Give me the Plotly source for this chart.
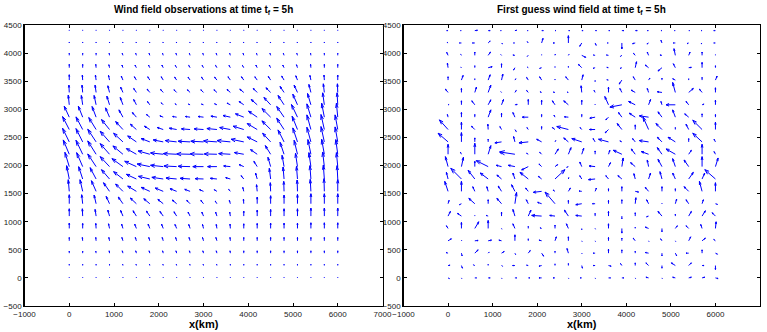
import plotly.graph_objects as go

# Grid (km)
X_KM = [0, 300, 600, 900, 1200, 1500, 1800, 2100, 2400, 2700, 3000,
        3300, 3600, 3900, 4200, 4500, 4800, 5100, 5400, 5700, 6000]
Y_KM = [0, 220, 440, 660, 880, 1100, 1320, 1540, 1760, 1980, 2200,
        2420, 2640, 2860, 3080, 3300, 3520, 3740, 3960, 4180, 4400]
X_TICKS = [-1000, 0, 1000, 2000, 3000, 4000, 5000, 6000, 7000]
Y_TICKS = [-500, 0, 500, 1000, 1500, 2000, 2500, 3000, 3500, 4000, 4500]

TITLE_OBS = "Wind field observations at time t<sub>f</sub> = 5h"
TITLE_FG = "First guess wind field at time t<sub>f</sub> = 5h"
XLABEL = "x(km)"

# Arrow components (rows from y=0 upward, columns x=0..6000)
U_OBS = [
    [0]*21,
    [0, 0, 0, 0, -1, -1, -1, -1, -1, -1, -1, -1, 0, 0, 0, 0, 0, 0, 0, 0, 0],
    [0, 0, -1, -1, -2, -2, -2, -2, -2, -2, -2, -2, -1, 0, 0, 0, 0, 0, 0, 0, 0],
    [0, -1, -1, -2, -3, -3, -3, -3, -3, -3, -3, -3, -1, 0, 0, 0, 0, 0, 0, 0, 0],
    [0, 0, -1, -3, -4, -5, -5, -5, -5, -4, -3, -2, -1, 0, 0, 0, 0, 0, 0, 0, 0],
    [0, -1, -3, -5, -7, -10, -10, -10, -8, -6, -5, -4, -2, 0, 0, 0, 0, 0, 0, 0, 0],
    [0, -3, -6, -10, -14, -18, -18, -16, -13, -10, -8, -5, -3, -1, 0, 0, 0, 0, 0, 0, 0],
    [-3, -8, -14, -18, -22, -26, -26, -24, -20, -16, -12, -8, -5, -3, -2, -1, -1, -1, -2, -1, 0],
    [-8, -12, -18, -24, -28, -30, -34, -34, -32, -30, -25, -20, -14, -8, -5, -4, -3, -3, -3, -3, -2],
    [-13, -18, -25, -28, -33, -35, -38, -38, -38, -36, -32, -28, -20, -14, -10, -8, -6, -6, -6, -5, -4],
    [-18, -20, -25, -28, -30, -30, -35, -38, -40, -40, -40, -38, -35, -28, -20, -16, -12, -10, -9, -8, -6],
    [-20, -20, -25, -28, -28, -26, -26, -30, -34, -36, -38, -40, -40, -38, -30, -24, -18, -14, -12, -10, -8],
    [-20, -20, -22, -24, -22, -18, -16, -18, -22, -26, -28, -30, -32, -32, -30, -26, -22, -16, -12, -10, -8],
    [-15, -13, -12, -12, -12, -12, -10, -10, -12, -14, -16, -18, -22, -25, -26, -26, -22, -18, -12, -8, -4],
    [-3, -4, -6, -8, -8, -8, -7, -6, -5, -5, -6, -7, -10, -14, -18, -20, -18, -14, -10, -5, -2],
    [-1, -2, -3, -5, -7, -8, -8, -8, -8, -8, -8, -9, -10, -12, -12, -14, -12, -10, -6, -3, -1],
    [0, -1, -2, -3, -5, -6, -6, -6, -6, -6, -6, -7, -7, -7, -7, -7, -7, -5, -3, -1, 0],
    [0, 0, -1, -2, -3, -4, -4, -4, -4, -4, -4, -4, -4, -4, -4, -4, -4, -3, -1, 0, 0],
    [0, 0, 0, -1, -2, -2, -2, -2, -2, -2, -2, -2, -2, -2, -2, -2, -2, -2, -1, 0, 0],
    [0, 0, 0, 0, -1, -1, -1, -1, -1, -1, -1, -1, -1, -1, -1, -1, -1, -1, 0, 0, 0],
    [0]*21,
]
V_OBS = [
    [2]*21,
    [4]*21,
    [6, 6, 6, 7, 7, 7, 7, 7, 7, 7, 7, 7, 7, 7, 7, 7, 7, 7, 7, 7, 7],
    [10]*21,
    [16, 15, 15, 14, 13, 13, 13, 13, 12, 12, 12, 12, 13, 14, 15, 16, 16, 16, 17, 17, 17],
    [22, 22, 20, 18, 17, 16, 15, 14, 13, 12, 12, 12, 12, 15, 18, 20, 22, 22, 24, 24, 24],
    [27, 27, 26, 22, 20, 17, 15, 13, 11, 10, 10, 8, 10, 14, 20, 24, 26, 28, 30, 30, 30],
    [35, 35, 32, 26, 22, 16, 12, 10, 8, 6, 5, 5, 6, 12, 20, 26, 30, 34, 36, 38, 36],
    [40, 37, 34, 28, 22, 14, 8, 5, 3, 2, 1, 2, 4, 10, 18, 32, 36, 38, 40, 42, 40],
    [43, 42, 38, 30, 24, 16, 8, 4, 2, 1, 0, 0, 2, 6, 16, 28, 34, 40, 42, 44, 42],
    [43, 42, 40, 32, 25, 17, 10, 4, 2, 1, 1, 1, 2, 5, 14, 26, 36, 42, 44, 45, 44],
    [41, 40, 38, 32, 26, 18, 10, 6, 4, 2, 2, 3, 4, 8, 15, 26, 36, 42, 44, 46, 45],
    [39, 38, 36, 30, 24, 16, 10, 6, 4, 2, 2, 3, 6, 10, 18, 26, 34, 40, 44, 45, 44],
    [33, 33, 32, 28, 22, 14, 8, 4, 2, 2, 2, 3, 5, 10, 18, 26, 32, 38, 40, 42, 42],
    [29, 28, 28, 26, 22, 16, 10, 6, 3, 2, 2, 3, 5, 10, 16, 22, 28, 32, 34, 36, 36],
    [22, 22, 22, 20, 16, 12, 10, 9, 8, 8, 8, 8, 9, 10, 12, 14, 18, 22, 24, 26, 26],
    [16, 15, 15, 14, 12, 10, 10, 10, 9, 9, 9, 9, 10, 10, 10, 11, 12, 13, 14, 15, 15],
    [10, 10, 10, 9, 8, 8, 8, 8, 7, 7, 7, 7, 7, 7, 8, 8, 8, 9, 10, 10, 10],
    [6]*21,
    [3]*21,
    [2]*21,
]

U_FG = [
    [4, 1, 5, 6, 1, 5, 5, -8, -6, 1, -5, 1, 6, 6, 1, -8, 1, -8, 8, 8, 8],
    [6, 3, -4, 0, 3, -7, -5, -8, 0, 0, 2, -6, 8, -4, 0, -8, 0, -12, 8, 6, 0],
    [-6, 2, 10, 3, 8, 2, 6, 6, 0, -4, 1, -6, 0, 0, 0, -10, 0, 4, -8, 0, 6],
    [10, 1, 10, 10, -8, 0, 0, -8, 4, 0, 1, 1, 0, 0, -6, 1, -4, 1, 6, 10, -5],
    [-5, 0, 12, 0, 1, -6, 0, -5, 0, -6, 0, 1, 0, 0, 0, -10, 0, 6, -8, -4, 2],
    [7, -12, 0, -6, 0, -6, 8, -30, -16, -12, -18, 0, 0, 0, 0, -6, -12, 0, 8, 10, -10],
    [3, -6, -18, 0, -14, 5, -6, -12, -30, 0, -18, -8, 0, 0, 2, -6, 0, 4, -8, 4, 6],
    [-10, 0, -6, -4, -10, -10, -8, -25, -6, 6, -8, 4, 0, 0, 10, -10, 0, 0, -14, -8, 0],
    [-5, -32, -20, -24, -14, -6, -25, -10, 30, 1, -6, -20, -8, -12, -4, 6, -6, -8, 14, 8, -32],
    [-8, 6, 0, -36, -16, -20, -20, -8, 8, -5, -6, -18, 6, 4, -14, -4, -12, -8, -14, 0, 8],
    [0, -3, 0, 8, -4, -46, -5, -6, 10, 8, 6, 0, 4, -26, -12, -22, -14, -28, 8, 0, -4],
    [-30, 0, 0, 0, -20, -4, -28, -15, 2, -14, -30, -6, -30, -6, -8, -28, -14, -22, 0, -28, -4],
    [-26, 0, -10, -1, -5, 4, -4, 0, -8, -35, -5, -17, -10, -14, 0, -17, -18, 0, -8, -28, 0],
    [-2, 0, 0, 8, 0, -6, -18, 0, -3, -12, 0, -16, -8, -10, -18, -28, -12, -8, -12, 0, 0],
    [3, 0, -9, 8, 6, 7, 0, 0, -8, -14, 0, 0, -11, -36, -20, 6, -3, -28, -8, 6, 0],
    [-8, 0, 5, 8, -2, 4, -5, -5, -5, -4, -2, -3, 0, -6, -12, -4, -14, -8, 14, -8, 0],
    [0, 5, 0, 6, 4, 3, -5, -6, 0, -8, 4, 0, -5, -8, -6, 4, 0, -8, 0, 0, 5],
    [-2, -2, 0, 12, 0, -4, -3, -6, 0, 0, -10, -6, -5, -5, 4, -10, -12, -6, 8, 0, 0],
    [-4, -2, 0, 7, -2, -6, -3, 0, 1, 2, 12, -5, -6, -4, -5, -4, -6, -4, 4, 0, 0],
    [-3, -6, -7, 6, 3, -4, -3, 4, -6, 0, -6, 3, -4, 0, -8, -5, -3, -6, -5, -3, -5],
    [-4, -3, 8, 6, -3, 5, -3, 5, 3, 4, 4, 4, 4, 6, 6, -4, -3, -3, 3, -3, -5],
]
V_FG = [
    [-2, -2, 0, 0, -2, 0, 0, 0, 0, -2, 0, -2, 0, 0, -2, 2, -2, 2, 2, 2, -2],
    [1, -8, 2, 4, -2, 0, 1, -2, 5, 6, -8, 0, -2, 6, 8, 8, -8, 8, 8, 0, -12],
    [2, -8, 10, 3, 5, -4, 8, -9, 6, 14, -2, 0, 12, 10, 6, 2, -8, -8, 0, 10, -3],
    [6, 2, 1, 2, 2, 18, 6, 2, 12, 12, -2, -2, 10, 8, 8, -2, 6, -2, 12, 8, 4],
    [8, 18, 20, 24, -2, 14, 6, 2, 10, 14, -4, -2, 14, -14, 4, 4, -10, 8, 8, 12, 20],
    [14, 8, 2, 2, 12, 20, 18, 2, 2, 18, 2, 8, 14, -8, 10, -2, 14, 6, 14, 16, 10],
    [10, -3, 16, 12, 16, 34, 12, 4, 35, 10, -3, 0, 10, 12, 18, 12, 2, 14, 12, 12, -2],
    [30, 30, 14, 14, 16, 20, 10, -3, 4, 10, 1, 10, 8, 14, -2, 12, 14, 8, 14, 30, 26],
    [20, 32, 26, 18, 12, 18, 20, 8, 28, 4, 10, -2, 10, 10, 16, 18, 22, 18, 20, 18, 28],
    [30, 28, 16, 18, 4, 4, -10, 8, 6, -2, 14, 2, 12, 26, 12, 20, 22, 24, 20, 30, 26],
    [30, 6, 33, 26, 6, 7, 3, 6, 16, 20, 18, 10, 12, 12, 16, 8, 20, 16, 12, 30, 8],
    [26, 28, 12, 8, -3, 16, -3, 8, 4, 12, 10, 10, 8, 3, 10, 4, 14, 14, 10, 26, 8],
    [29, 22, 10, 16, 9, -6, 6, 9, 6, 9, 6, 0, -10, 18, 14, 38, 18, 6, 16, 28, 22],
    [8, 14, 8, 22, 12, 14, 0, 8, 6, 1, 8, -3, -8, 14, 12, 4, 16, 22, 10, 10, 8],
    [1, 12, 12, 15, 16, 1, 16, 14, 12, 12, 14, 2, 25, -7, 10, 16, 10, 0, 10, 2, 14],
    [10, 12, 16, 22, 2, 6, 6, 2, 1, 1, 20, 6, 16, 12, 7, 12, 2, 30, 12, 10, 14],
    [10, 14, 4, 16, 18, 4, 8, 10, 3, 10, 16, -4, 1, -12, 10, 6, 6, 4, 4, 8, 12],
    [14, 2, 6, 3, 12, -7, 2, -2, 3, 4, 10, -2, 1, -2, 18, 8, -10, 12, 1, 16, 6],
    [9, 3, 10, 10, 2, 1, -3, 2, 4, 3, -6, 1, 1, -3, 6, 10, 1, 20, 10, 10, 2],
    [2, 0, 0, 6, -3, 0, 4, 14, 0, 22, -10, -7, 0, -18, -2, -3, 8, 0, -2, -3, 0],
    [0, 0, 1, 0, 0, 1, 0, 0, 0, 0, 0, 0, 0, 0, 0, 0, 0, 0, 0, 0, 0],
]

# conversion of picture units to km along each axis
KM_PER_UNIT_X = 7.46
KM_PER_UNIT_Y = 5.92
ALPHA = 0.33
BETA = 0.33


def quiver_lines(U, V):
    xs, ys = [], []
    eps = 1e-9
    for j, y in enumerate(Y_KM):
        for i, x in enumerate(X_KM):
            u = U[j][i] * KM_PER_UNIT_X
            v = V[j][i] * KM_PER_UNIT_Y
            if u == 0 and v == 0:
                v = 0.5 * KM_PER_UNIT_Y
            xs += [x, x + u, None]
            ys += [y, y + v, None]
            xs += [x + u - ALPHA * (u + BETA * (v + eps)), x + u,
                   x + u - ALPHA * (u - BETA * (v + eps)), None]
            ys += [y + v - ALPHA * (v - BETA * (u + eps)), y + v,
                   y + v - ALPHA * (v + BETA * (u + eps)), None]
    return xs, ys


W, H = 767, 332
FONT = "Liberation Sans, Arial, Helvetica, sans-serif"

fig = go.Figure()
for k, (U, V) in enumerate([(U_OBS, V_OBS), (U_FG, V_FG)]):
    xs, ys = quiver_lines(U, V)
    fig.add_trace(go.Scatter(
        x=xs, y=ys, mode="lines",
        line=dict(color="#0000ff", width=1),
        xaxis="x" if k == 0 else "x2", yaxis="y" if k == 0 else "y2",
        hoverinfo="skip", showlegend=False))

ax = dict(ticks="inside", ticklen=3, tickwidth=1, tickcolor="black",
          showline=True, linecolor="black", linewidth=1.3, mirror="ticks",
          showgrid=False, zeroline=False, automargin=False,
          tickfont=dict(family=FONT, size=8, color="#222"))

ydom = [1 - 306 / H, 1 - 25 / H]
fig.update_layout(
    width=W, height=H, margin=dict(l=0, r=0, t=0, b=0, autoexpand=False),
    paper_bgcolor="white", plot_bgcolor="white",
    xaxis=dict(ax, domain=[24.5 / W, 382.5 / W], range=[-1000, 7000],
               tickvals=X_TICKS, anchor="y"),
    yaxis=dict(ax, domain=ydom, range=[-500, 4500], tickvals=Y_TICKS, anchor="x"),
    xaxis2=dict(ax, domain=[403.5 / W, 760 / W], range=[-1000, 7000],
                tickvals=X_TICKS, anchor="y2"),
    yaxis2=dict(ax, domain=ydom, range=[-500, 4500], tickvals=Y_TICKS, anchor="x2"),
)

for cx, title in [((24.5 + 382.5) / 2, TITLE_OBS), ((403.5 + 760) / 2, TITLE_FG)]:
    fig.add_annotation(x=cx / W, y=1 - 9.5 / H, xref="paper", yref="paper",
                       text="<b>" + title + "</b>", showarrow=False,
                       xanchor="center", yanchor="middle",
                       font=dict(family=FONT, size=10, color="black"))
    fig.add_annotation(x=cx / W, y=1 - 324 / H, xref="paper", yref="paper",
                       text="<b>" + XLABEL + "</b>", showarrow=False,
                       xanchor="center", yanchor="middle",
                       font=dict(family=FONT, size=11, color="black"))

fig.write_html("out.html",
               config={"displayModeBar": False, "staticPlot": True},
               post_script="document.body.style.margin='0';document.body.style.overflow='hidden';")
